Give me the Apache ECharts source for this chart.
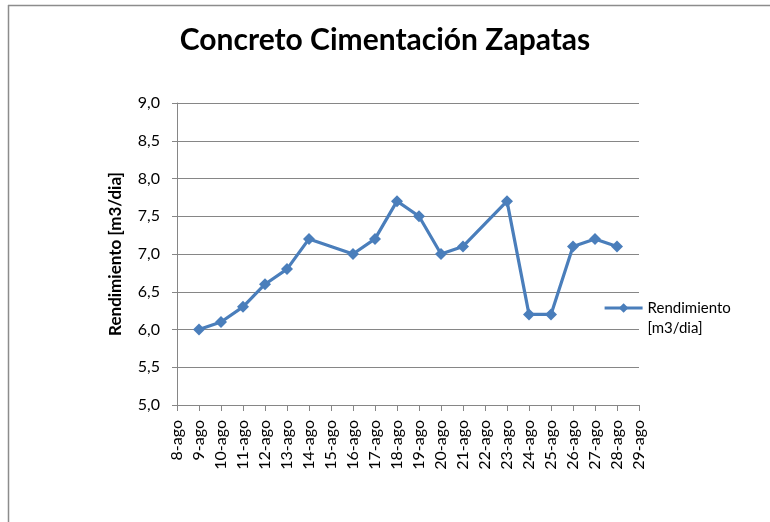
<!DOCTYPE html>
<html><head><meta charset="utf-8">
<script src="https://cdn.jsdelivr.net/npm/echarts@6/dist/echarts.min.js"></script>
<style>html,body{margin:0;padding:0;background:#fff}#c{width:770px;height:522px}</style>
</head><body><div id="c"></div>
<script>
const categories = ['8-ago','9-ago','10-ago','11-ago','12-ago','13-ago','14-ago','15-ago','16-ago','17-ago','18-ago','19-ago','20-ago','21-ago','22-ago','23-ago','24-ago','25-ago','26-ago','27-ago','28-ago','29-ago'];
const rendimiento = [null,6.0,6.1,6.3,6.6,6.8,7.2,null,7.0,7.2,7.7,7.5,7.0,7.1,null,7.7,6.2,6.2,7.1,7.2,7.1,null];
const yTicks = {min:5, max:9, interval:0.5};
const titleText = 'Concreto Cimentación Zapatas';
const yName = 'Rendimiento [m3/dia]';
const seriesName = 'Rendimiento [m3/dia]';

const font = 'Lato';
const chart = echarts.init(document.getElementById('c'), null, {renderer:'canvas'});
chart.setOption({
  animation:false,
  backgroundColor:'#fff',
  title:{text:titleText,left:'center',top:20,textStyle:{fontFamily:font,fontWeight:'bold',fontSize:30,color:'#000'}},
  graphic:[
    {type:'line',shape:{x1:8,y1:5.5,x2:770,y2:5.5},style:{stroke:'#8c8c8c',lineWidth:1.5}},
    {type:'line',shape:{x1:8.5,y1:5,x2:8.5,y2:522},style:{stroke:'#8c8c8c',lineWidth:1.5}}
  ],
  legend:{
    orient:'vertical',left:603,top:278,padding:0,itemWidth:38,itemHeight:12,itemGap:0,
    data:[{name:seriesName}],
    lineStyle:{width:3.2,color:'#4a7ebb'},
    formatter:()=> ' \nRendimiento\n[m3/dia]',
    textStyle:{fontFamily:font,fontSize:15,color:'#000',lineHeight:20}
  },
  grid:{left:177,right:131,top:103,bottom:117,containLabel:false},
  xAxis:{
    type:'category',data:categories,boundaryGap:false,
    axisLine:{lineStyle:{color:'#868686',width:1}},
    axisTick:{show:true,length:6,lineStyle:{color:'#868686'},alignWithLabel:true},
    axisLabel:{rotate:90,interval:0,fontFamily:font,fontSize:16,color:'#000',margin:15},
    splitLine:{show:false}
  },
  yAxis:{
    type:'value',min:yTicks.min,max:yTicks.max,interval:yTicks.interval,
    name:yName,nameLocation:'middle',nameGap:53,
    nameTextStyle:{fontFamily:font,fontWeight:'bold',fontSize:17,color:'#000'},
    axisLine:{show:true,lineStyle:{color:'#868686'}},
    axisTick:{show:true,length:5,lineStyle:{color:'#868686'}},
    axisLabel:{fontFamily:font,fontSize:16,color:'#000',margin:17,formatter:v=>v.toFixed(1).replace('.',',')},
    splitLine:{lineStyle:{color:'#868686',width:1}}
  },
  series:[{
    name:seriesName,type:'line',data:rendimiento,connectNulls:true,
    symbol:'diamond',symbolSize:12,
    lineStyle:{color:'#4a7ebb',width:3.2},
    itemStyle:{color:'#4a7ebb'}
  }]
});
</script></body></html>
